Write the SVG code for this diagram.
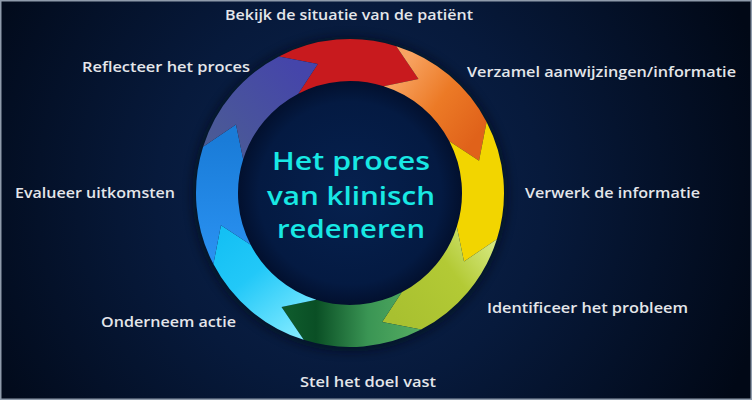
<svg xmlns="http://www.w3.org/2000/svg" width="752" height="400" viewBox="0 0 752 400">
  <defs>
    <style>
      .lbl { font-family: "Open Sans", "Liberation Sans", sans-serif; font-weight: 600; font-size: 14.5px; fill: #e4e6ea; }
      .ttl { font-family: "Open Sans", "Liberation Sans", sans-serif; font-weight: 600; font-size: 25px; fill: #18e8e4; text-anchor: middle; }
    </style>
    <radialGradient id="bg" gradientUnits="userSpaceOnUse" cx="350" cy="195" r="430">
      <stop offset="0" stop-color="#0d2550"/>
      <stop offset="0.45" stop-color="#071a3c"/>
      <stop offset="1" stop-color="#010816"/>
    </radialGradient>
    <radialGradient id="inner" gradientUnits="userSpaceOnUse" cx="350" cy="193" r="114">
      <stop offset="0" stop-color="#06214f"/>
      <stop offset="0.8" stop-color="#041a42"/>
      <stop offset="1" stop-color="#020f2c"/>
    </radialGradient>
    <linearGradient id="gOrange" gradientUnits="userSpaceOnUse" x1="395" y1="75" x2="478" y2="135">
      <stop offset="0" stop-color="#f8a462"/>
      <stop offset="0.5" stop-color="#ec7a26"/>
      <stop offset="1" stop-color="#e0621a"/>
    </linearGradient>
    <linearGradient id="gYG" gradientUnits="userSpaceOnUse" x1="495" y1="245" x2="395" y2="320">
      <stop offset="0" stop-color="#d5e87e"/>
      <stop offset="0.4" stop-color="#b3ca35"/>
      <stop offset="1" stop-color="#a8c030"/>
    </linearGradient>
    <linearGradient id="gGreen" gradientUnits="userSpaceOnUse" x1="290" y1="320" x2="420" y2="320">
      <stop offset="0" stop-color="#0e5a2c"/>
      <stop offset="0.2" stop-color="#0a4f25"/>
      <stop offset="0.6" stop-color="#3a9554"/>
      <stop offset="1" stop-color="#55ad62"/>
    </linearGradient>
    <linearGradient id="gCyan" gradientUnits="userSpaceOnUse" x1="300" y1="335" x2="220" y2="235">
      <stop offset="0" stop-color="#80eaff"/>
      <stop offset="0.6" stop-color="#22c8f8"/>
      <stop offset="1" stop-color="#14c0f4"/>
    </linearGradient>
    <linearGradient id="gBlue" gradientUnits="userSpaceOnUse" x1="220" y1="140" x2="220" y2="262">
      <stop offset="0" stop-color="#1a7cd8"/>
      <stop offset="1" stop-color="#2a92f2"/>
    </linearGradient>
    <linearGradient id="gPurple" gradientUnits="userSpaceOnUse" x1="295" y1="65" x2="210" y2="150">
      <stop offset="0" stop-color="#4545aa"/>
      <stop offset="1" stop-color="#4b5c94"/>
    </linearGradient>
    <filter id="blur" x="-20%" y="-20%" width="140%" height="140%">
      <feGaussianBlur stdDeviation="5"/>
    </filter>
  </defs>

  <rect x="0" y="0" width="752" height="400" fill="url(#bg)"/>
  <circle cx="350" cy="194" r="133" fill="none" stroke="#000814" stroke-width="50" opacity="0.55" filter="url(#blur)"/>
  <circle cx="350" cy="193" r="113" fill="url(#inner)"/>

  <g id="connectors">
    <g id="step1">
      <path d="M 278.89,56.40 A 154 154 0 0 1 396.31,46.13 L 418.50,79.00 L 383.68,86.18 A 112 112 0 0 0 298.28,93.65 L 317.82,63.95 Z" fill="#c81a1e"/>
    </g>
    <g id="step2">
      <path d="M 396.31,46.13 A 154 154 0 0 1 486.60,121.89 L 479.05,160.82 L 449.35,141.28 A 112 112 0 0 0 383.68,86.18 L 418.50,79.00 Z" fill="url(#gOrange)"/>
    </g>
    <g id="step3">
      <path d="M 486.60,121.89 A 154 154 0 0 1 496.87,239.31 L 464.00,261.50 L 456.82,226.68 A 112 112 0 0 0 449.35,141.28 L 479.05,160.82 Z" fill="#f2d500"/>
    </g>
    <g id="step4">
      <path d="M 496.87,239.31 A 154 154 0 0 1 421.11,329.60 L 382.18,322.05 L 401.72,292.35 A 112 112 0 0 0 456.82,226.68 L 464.00,261.50 Z" fill="url(#gYG)"/>
    </g>
    <g id="step5">
      <path d="M 421.11,329.60 A 154 154 0 0 1 303.69,339.87 L 281.50,307.00 L 316.32,299.82 A 112 112 0 0 0 401.72,292.35 L 382.18,322.05 Z" fill="url(#gGreen)"/>
    </g>
    <g id="step6">
      <path d="M 303.69,339.87 A 154 154 0 0 1 213.40,264.11 L 220.95,225.18 L 250.65,244.72 A 112 112 0 0 0 316.32,299.82 L 281.50,307.00 Z" fill="url(#gCyan)"/>
    </g>
    <g id="step7">
      <path d="M 213.40,264.11 A 154 154 0 0 1 203.13,146.69 L 236.00,124.50 L 243.18,159.32 A 112 112 0 0 0 250.65,244.72 L 220.95,225.18 Z" fill="url(#gBlue)"/>
    </g>
    <g id="step8">
      <path d="M 203.13,146.69 A 154 154 0 0 1 278.89,56.40 L 317.82,63.95 L 298.28,93.65 A 112 112 0 0 0 243.18,159.32 L 236.00,124.50 Z" fill="url(#gPurple)"/>
    </g>
  </g>

  <g id="label-bekijk"><text class="lbl" x="225" y="19.5" textLength="248" lengthAdjust="spacingAndGlyphs">Bekijk de situatie van de patiënt</text></g>
  <g id="label-verzamel"><text class="lbl" x="467" y="77" textLength="269" lengthAdjust="spacingAndGlyphs">Verzamel aanwijzingen/informatie</text></g>
  <g id="label-verwerk"><text class="lbl" x="525" y="198" textLength="175" lengthAdjust="spacingAndGlyphs">Verwerk de informatie</text></g>
  <g id="label-identificeer"><text class="lbl" x="487" y="313" textLength="201" lengthAdjust="spacingAndGlyphs">Identificeer het probleem</text></g>
  <g id="label-stel"><text class="lbl" x="300" y="387" textLength="136" lengthAdjust="spacingAndGlyphs">Stel het doel vast</text></g>
  <g id="label-onderneem"><text class="lbl" x="101" y="327" textLength="135" lengthAdjust="spacingAndGlyphs">Onderneem actie</text></g>
  <g id="label-evalueer"><text class="lbl" x="15" y="198" textLength="160" lengthAdjust="spacingAndGlyphs">Evalueer uitkomsten</text></g>
  <g id="label-reflecteer"><text class="lbl" x="82" y="72" textLength="168" lengthAdjust="spacingAndGlyphs">Reflecteer het proces</text></g>

  <g id="center-title">
    <text class="ttl" x="351" y="170" textLength="158" lengthAdjust="spacingAndGlyphs">Het proces</text>
    <text class="ttl" x="351" y="204.5" textLength="168" lengthAdjust="spacingAndGlyphs">van klinisch</text>
    <text class="ttl" x="351" y="238" textLength="148" lengthAdjust="spacingAndGlyphs">redeneren</text>
  </g>

  <rect x="0.75" y="0.75" width="750.5" height="398.5" fill="none" stroke="#8f9bab" stroke-width="1.5"/>
</svg>
